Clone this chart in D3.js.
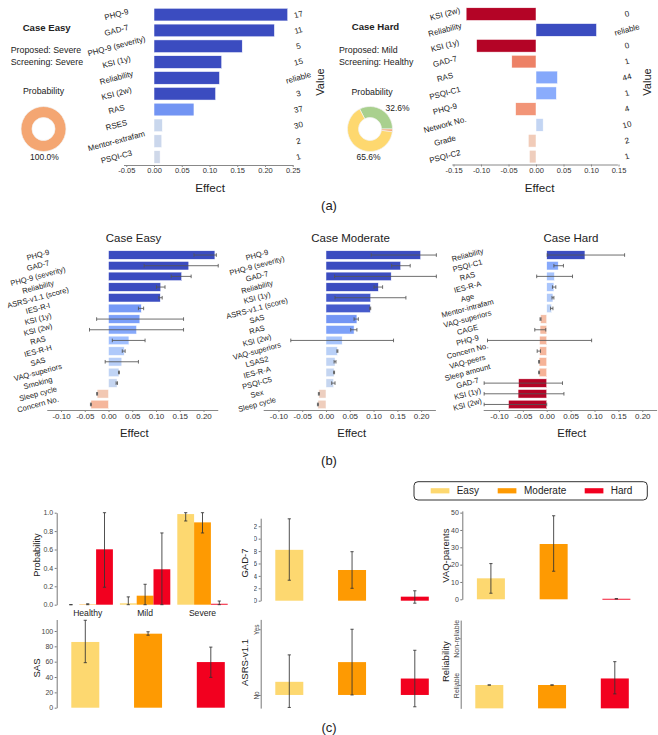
<!DOCTYPE html>
<html><head><meta charset="utf-8">
<script src="https://cdn.jsdelivr.net/npm/d3@7"></script>
<style>body{margin:0;background:#fff}svg{display:block;background:#fff}</style>
</head><body><svg id="c" width="658" height="735"></svg>
<script>
// ================= DATA =================
// panel (a)
const aEasyFeatures = ["PHQ-9","GAD-7","PHQ-9 (severity)","KSI (1y)","Reliability","KSI (2w)","RAS","RSES","Mentor-extrafam","PSQI-C3"];
const aEasyEffects  = [0.241,0.217,0.159,0.122,0.118,0.111,0.072,0.015,0.014,0.011];
const aEasyValues   = ["17","11","5","15","reliable","3","37","30","2","1"];
const aHardFeatures = ["KSI (2w)","Reliability","KSI (1y)","GAD-7","RAS","PSQI-C1","PHQ-9","Network No.","Grade","PSQI-C2"];
const aHardEffects  = [-0.127,0.110,-0.108,-0.044,0.039,0.037,-0.037,0.013,-0.014,-0.012];
const aHardValues   = ["0","reliable","0","1","44","1","4","10","2","1"];
const aEasyTicks = [-0.05,0,0.05,0.10,0.15,0.20,0.25];
const aHardTicks = [-0.15,-0.10,-0.05,0,0.05,0.10,0.15];
const donutLevels = ["Healthy","Mild","Severe"];
const aEasyProb = [0,0,1.0];
const aHardProb = [0.326,0.656,0.018];

// panel (b)
const bTicks = [-0.10,-0.05,0,0.05,0.10,0.15,0.20];
const bEasyFeatures = ["PHQ-9","GAD-7","PHQ-9 (severity)","Reliability","ASRS-v1.1 (score)","IES-R-I","KSI (1y)","KSI (2w)","RAS","IES-R-H","SAS","VAQ-superiors","Smoking","Sleep cycle","Concern No."];
const bEasyEffects  = [0.224,0.169,0.154,0.110,0.109,0.069,0.066,0.059,0.043,0.033,0.028,0.022,0.018,-0.024,-0.037];
const bEasyLow      = [0.180,0.075,0.132,0.101,0.106,0.063,-0.025,-0.040,0.008,0.029,-0.007,0.021,0.016,-0.025,-0.038];
const bEasyHigh     = [0.227,0.231,0.174,0.119,0.113,0.074,0.158,0.158,0.077,0.035,0.063,0.023,0.019,-0.023,-0.036];
const bModFeatures  = ["PHQ-9","PHQ-9 (severity)","GAD-7","Reliability","KSI (1y)","ASRS-v1.1 (score)","SAS","RAS","KSI (2w)","VAQ-superiors","LSAS2","IES-R-A","PSQI-C5","Sex","Sleep cycle"];
const bModEffects   = [0.199,0.157,0.137,0.110,0.094,0.093,0.065,0.059,0.034,0.024,0.019,0.017,0.016,-0.015,-0.017];
const bModLow       = [0.095,0.138,0.018,0.101,0.019,0.092,0.059,0.052,-0.074,0.023,0.017,0.016,0.012,-0.016,-0.018];
const bModHigh      = [0.232,0.177,0.232,0.119,0.168,0.094,0.068,0.065,0.142,0.025,0.021,0.018,0.019,-0.014,-0.016];
const bHardFeatures = ["Reliability","PSQI-C1","RAS","IES-R-A","Age","Mentor-intrafam","VAQ-superiors","CAGE","PHQ-9","Concern No.","VAQ-peers","Sleep amount","GAD-7","KSI (1y)","KSI (2w)"];
const bHardEffects  = [0.080,0.024,0.016,0.015,0.013,0.010,-0.013,-0.014,-0.015,-0.015,-0.016,-0.016,-0.059,-0.060,-0.080];
const bHardLow      = [0.001,0.015,-0.021,0.012,0.011,0.008,-0.014,-0.025,-0.124,-0.020,-0.017,-0.017,-0.131,-0.131,-0.131];
const bHardHigh     = [0.163,0.035,0.054,0.019,0.015,0.013,-0.012,-0.002,0.094,-0.013,-0.015,-0.015,0.033,0.036,0.000];

// panel (c)
const levels = ["Easy","Moderate","Hard"];
const probGroups = ["Healthy","Mild","Severe"];
const probEasy = [0.0,0.015,0.985],   probEasyLow = [0,0,0.91],  probEasyHigh = [0,0.085,1.0];
const probMod  = [0.004,0.098,0.895], probModLow  = [0,0,0.78],  probModHigh  = [0.01,0.222,1.0];
const probHard = [0.602,0.385,0.01],  probHardLow = [0.19,0,0],  probHardHigh = [1.0,0.78,0.04];
const probTicks = [0,0.2,0.4,0.6,0.8,1.0];
const gadMean = [8.2,4.95,0.65],  gadLow = [3.3,2.0,-0.4],   gadHigh = [13.2,7.9,1.6];
const gadTicks = [0,2,4,6,8,10,12];
const vaqMean = [12.1,31.9,0.3],  vaqLow = [3.5,16.2,0.2],   vaqHigh = [20.6,48.2,0.4];
const vaqTicks = [0,10,20,30,40,50];
const sasMean = [85.7,96.5,59.5], sasLow = [58.7,94.5,39.6], sasHigh = [114,99,79];
const sasTicks = [0,20,40,60,80,100];
const asrsMean = [0.20,0.50,0.25], asrsLow = [-0.19,0.0,-0.18], asrsHigh = [0.61,1.0,0.68];
const asrsTicks = [0,1], asrsTickLabels = ["No","Yes"];
const relMean = [1.0,1.0,1.14], relLow = [1.0,1.0,0.81], relHigh = [1.0,1.0,1.5];
const relTicks = [1,2], relTickLabels = ["Reliable","Non-reliable"];

// ================= DRAWING =================
const FONT = '"Liberation Sans", Arial, Helvetica, sans-serif';
const svg = d3.select("#c").style("font-family", FONT);
const coolStops = ['#3b4cc0','#5977e3','#7b9ff9','#9ebeff','#c0d4f5','#dddcdc','#f2cbb7','#f7ac8e','#ee8468','#d65244','#b40426'];
const cw = d3.scaleLinear().domain(d3.range(11).map(i=>i/10)).range(coolStops).clamp(true);
const coolColor = (v,R) => cw(0.5 - 0.5*Math.max(-1,Math.min(1,v/R)));
const donutColors = ['#a9d08e','#fed86f','#f4a672'];
const levelColors = ['#fdd870','#fe9a02','#f2001f'];

function txt(x,y,s,size,o={}){
  const t = svg.append("text").attr("x",x).attr("y",y).text(s)
    .attr("font-size",size).attr("fill",o.fill||"#222")
    .attr("text-anchor",o.anchor||"middle").attr("dominant-baseline","central");
  if(o.bold) t.attr("font-weight","bold");
  if(o.rot!==undefined) t.attr("transform",`rotate(${o.rot},${x},${y})`);
  return t;
}

function hbar(o){
  const g = svg.append("g");
  const x = d3.scaleLinear().domain(o.domain).range(o.xr);
  const y = d3.scaleBand().domain(o.features).range(o.yr).paddingInner(0.2).paddingOuter(0.1);
  const rows = o.features.map((f,i)=>({f, v:o.effects[i], lo:o.lo?o.lo[i]:null, hi:o.hi?o.hi[i]:null, val:o.values?o.values[i]:null}));
  g.selectAll("rect.bar").data(rows).join("rect").attr("class","bar")
    .attr("x",d=>x(Math.min(0,d.v))).attr("width",d=>Math.abs(x(d.v)-x(0)))
    .attr("y",d=>y(d.f)).attr("height",y.bandwidth())
    .attr("fill",d=>coolColor(d.v,o.R)).attr("stroke","#fff").attr("stroke-width",0.5);
  if(o.lo){
    const e = g.selectAll("g.err").data(rows).join("g").attr("class","err")
      .attr("stroke","#555").attr("stroke-width",1).attr("stroke-opacity",0.85);
    const cy = d=>y(d.f)+y.bandwidth()/2;
    e.append("line").attr("x1",d=>x(d.lo)).attr("x2",d=>x(d.hi)).attr("y1",cy).attr("y2",cy);
    e.append("line").attr("x1",d=>x(d.lo)).attr("x2",d=>x(d.lo)).attr("y1",d=>cy(d)-1.8).attr("y2",d=>cy(d)+1.8);
    e.append("line").attr("x1",d=>x(d.hi)).attr("x2",d=>x(d.hi)).attr("y1",d=>cy(d)-1.8).attr("y2",d=>cy(d)+1.8);
  }
  rows.forEach(d=>{
    const cy = y(d.f)+y.bandwidth()/2;
    txt(o.labelCx, cy, d.f, o.labelSize, {rot:-15});
    if(d.val!==null) txt(o.valueCx, cy, d.val, 8, {rot:-15});
  });
  const ax = g.append("g").attr("transform",`translate(0,${o.axisY})`)
    .call(d3.axisBottom(x).tickValues(o.ticks).tickFormat(d=>d.toFixed(2)).tickSize(2).tickSizeOuter(0).tickPadding(1));
  ax.attr("font-family",FONT).attr("font-size",o.tickSize);
  ax.select(".domain").attr("stroke","#888");
  ax.selectAll(".tick line").attr("stroke","#888");
  ax.selectAll(".tick text").attr("fill","#333");
  txt((o.xr[0]+o.xr[1])/2+o.effectDx, o.effectY, "Effect", o.effectSize);
}

function donut(cx,cy,probs){
  const arc = d3.arc().innerRadius(11.5).outerRadius(22.5);
  let cum = 0;
  probs.forEach((p,i)=>{
    const a0 = Math.PI/2 - 2*Math.PI*cum, a1 = Math.PI/2 - 2*Math.PI*(cum+p);
    svg.append("path").attr("transform",`translate(${cx},${cy})`)
      .attr("d",arc({startAngle:a1,endAngle:a0}))
      .attr("fill",donutColors[i]).attr("stroke","#f2f2f2").attr("stroke-width",0.7);
    cum += p;
  });
}

// ---------- panel (a) ----------
txt(46.7,27.3,"Case Easy",9.6,{bold:true});
txt(10.7,50,"Proposed: Severe",8.8,{anchor:"start"});
txt(10.7,61.5,"Screening: Severe",8.8,{anchor:"start"});
txt(43.5,91,"Probability",8.8);
donut(43.5,129,aEasyProb);
txt(44.5,157,(aEasyProb[2]*100).toFixed(1)+"%",8.5);

txt(375.5,26.7,"Case Hard",9.6,{bold:true});
txt(339,50,"Proposed: Mild",8.8,{anchor:"start"});
txt(339,61.5,"Screening: Healthy",8.8,{anchor:"start"});
txt(372,92,"Probability",8.8);
donut(370,129,aHardProb);
txt(397.5,108,(aHardProb[0]*100).toFixed(1)+"%",8.5);
txt(368.5,157,(aHardProb[1]*100).toFixed(1)+"%",8.5);

hbar({features:aEasyFeatures,effects:aEasyEffects,values:aEasyValues,domain:[-0.055,0.25],xr:[123.5,292.7],
  yr:[6.7,164.9],axisY:165,ticks:aEasyTicks,R:0.11,labelCx:116.5,labelSize:8,valueCx:298.5,tickSize:7.5,
  effectY:187,effectDx:2,effectSize:11.7});
hbar({features:aHardFeatures,effects:aHardEffects,values:aHardValues,domain:[-0.153,0.148],xr:[451.85,617.4],
  yr:[6.2,164.5],axisY:164.5,ticks:aHardTicks,R:0.072,labelCx:445,labelSize:8,valueCx:627,tickSize:7.5,
  effectY:187,effectDx:5,effectSize:11.7});
txt(320,82,"Value",11,{rot:-90});
txt(646.5,82,"Value",11,{rot:-90});
txt(329,205,"(a)",13);

// ---------- panel (b) ----------
txt(133.5,237.5,"Case Easy",11.5);
txt(350.5,237.5,"Case Moderate",11.5);
txt(571,237.5,"Case Hard",11.5);
hbar({features:bEasyFeatures,effects:bEasyEffects,lo:bEasyLow,hi:bEasyHigh,domain:[-0.13,0.23],xr:[46.75,217.75],
  yr:[249.7,409.8],axisY:410,ticks:bTicks,R:0.11,labelCx:38,labelSize:7.6,tickSize:8,
  effectY:432.7,effectDx:2,effectSize:11.3});
hbar({features:bModFeatures,effects:bModEffects,lo:bModLow,hi:bModHigh,domain:[-0.132,0.23],xr:[263.2,435.4],
  yr:[249.7,409.8],axisY:410,ticks:bTicks,R:0.10,labelCx:257,labelSize:7.6,tickSize:8,
  effectY:432.7,effectDx:2.4,effectSize:11.3});
hbar({features:bHardFeatures,effects:bHardEffects,lo:bHardLow,hi:bHardHigh,domain:[-0.133,0.23],xr:[483.2,656.6],
  yr:[249.7,409.8],axisY:410,ticks:bTicks,R:0.045,labelCx:467.5,labelSize:7.6,tickSize:8,
  effectY:432.7,effectDx:1.8,effectSize:11.3});
txt(329,460.8,"(b)",13);

// ---------- panel (c) ----------
function errV(g,cx,y0,y1,cw){
  const e = g.append("g").attr("stroke","#333").attr("stroke-width",1).attr("stroke-opacity",0.85);
  e.append("line").attr("x1",cx).attr("x2",cx).attr("y1",y0).attr("y2",y1);
  e.append("line").attr("x1",cx-cw).attr("x2",cx+cw).attr("y1",y0).attr("y2",y0);
  e.append("line").attr("x1",cx-cw).attr("x2",cx+cw).attr("y1",y1).attr("y2",y1);
}
function leftAxis(g,axisX,y,ticks,fmt,opts={}){
  const ax = g.append("g").attr("transform",`translate(${axisX},0)`)
    .call(d3.axisLeft(y).tickValues(ticks).tickFormat(fmt).tickSize(2).tickSizeOuter(0).tickPadding(1.5));
  ax.attr("font-family",FONT).attr("font-size",opts.size||7);
  ax.select(".domain").attr("stroke","#777");
  ax.selectAll(".tick line").attr("stroke","#777");
  ax.selectAll(".tick text").attr("fill","#444");
  if(opts.rot){
    ax.selectAll(".tick text").attr("transform","rotate(-90)").attr("x",0).attr("y",-2.2)
      .attr("dy",0).attr("text-anchor","middle");
  }
  return ax;
}

// probability grouped chart
{
  const g = svg.append("g");
  const y = d3.scaleLinear().domain([0,1]).range([604.7,512.7]);
  const gx = d3.scalePoint().domain(probGroups).range([87.7,202.5]);
  const sub = d3.scaleBand().domain(levels).range([-25.2,25.2]);
  const means=[probEasy,probMod,probHard], lows=[probEasyLow,probModLow,probHardLow], highs=[probEasyHigh,probModHigh,probHardHigh];
  levels.forEach((l,li)=>{
    probGroups.forEach((gr,gi)=>{
      const x0 = gx(gr)+sub(l);
      g.append("rect").attr("x",x0).attr("width",sub.bandwidth())
        .attr("y",y(means[li][gi])).attr("height",y(0)-y(means[li][gi])).attr("fill",levelColors[li]);
    });
  });
  levels.forEach((l,li)=>{
    probGroups.forEach((gr,gi)=>{
      errV(g,gx(gr)+sub(l)+sub.bandwidth()/2,y(lows[li][gi]),y(highs[li][gi]),1.6);
    });
  });
  leftAxis(g,56.7,y,probTicks,d=>d.toFixed(1));
  probGroups.forEach(gr=>txt(gx(gr),613.3,gr,8.6));
  txt(36.7,555,"Probability",9.3,{rot:-90});
}

function vbar(o){
  const g = svg.append("g");
  const y = d3.scaleLinear().domain(o.domain).range(o.yr);
  const x = d3.scalePoint().domain(levels).range([o.axisX+28.6,o.axisX+154.1]);
  const base = o.base!==undefined ? o.base : 0;
  levels.forEach((l,i)=>{
    const v = o.mean[i];
    g.append("rect").attr("x",x(l)-14).attr("width",28)
      .attr("y",Math.min(y(v),y(base))).attr("height",Math.max(0.9,Math.abs(y(base)-y(v))))
      .attr("fill",levelColors[i]);
  });
  levels.forEach((l,i)=>errV(g,x(l),y(o.lo[i]),y(o.hi[i]),1.6));
  const ax = leftAxis(g,o.axisX,y,o.ticks,o.fmt,{rot:o.rotTicks,size:o.tickSize});
  if(o.clipX!==undefined){
    // clip is expressed in the axis group's local coordinates (translated by axisX)
    const id="clip"+Math.round(o.axisX)+Math.round(o.yr[0]);
    svg.append("clipPath").attr("id",id).append("rect")
      .attr("x",o.clipX-o.axisX).attr("y",o.yr[1]-10).attr("width",60).attr("height",o.yr[0]-o.yr[1]+20);
    ax.attr("clip-path",`url(#${id})`);
  }
  txt(o.labelPos[0],o.labelPos[1],o.label,9.5,{rot:-90});
}

vbar({axisX:260.7,domain:[0,13.3],yr:[600.7,518.2],mean:gadMean,lo:gadLow,hi:gadHigh,ticks:gadTicks,
  fmt:d=>String(d),label:"GAD-7",labelPos:[244,563],clipX:254.1});
vbar({axisX:462.3,domain:[0,51],yr:[599.3,510.9],mean:vaqMean,lo:vaqLow,hi:vaqHigh,ticks:vaqTicks,
  fmt:d=>String(d),label:"VAQ-parents",labelPos:[446,555.7]});
vbar({axisX:56.7,domain:[0,115],yr:[707.7,619.5],mean:sasMean,lo:sasLow,hi:sasHigh,ticks:sasTicks,
  fmt:d=>String(d),label:"SAS",labelPos:[36.5,668]});
vbar({axisX:260.7,domain:[-0.2,1.15],yr:[708.1,619.4],mean:asrsMean,lo:asrsLow,hi:asrsHigh,ticks:asrsTicks,
  fmt:(d,i)=>asrsTickLabels[i],rotTicks:true,tickSize:6.5,label:"ASRS-v1.1",labelPos:[244,662.5]});
vbar({axisX:460.7,domain:[0.5,2.39],yr:[708.35,620.1],mean:relMean,lo:relLow,hi:relHigh,ticks:relTicks,base:0.5,
  fmt:(d,i)=>relTickLabels[i],rotTicks:true,tickSize:7,label:"Reliability",labelPos:[446,661.7]});

// legend
{
  const g = svg.append("g");
  g.append("rect").attr("x",414).attr("y",481.7).attr("width",233.3).attr("height",18.3).attr("rx",4)
    .attr("fill","#fff").attr("stroke","#333").attr("stroke-width",1);
  const sw=[430.7,497.7,584.7], tx=[456.7,524,610.7];
  levels.forEach((l,i)=>{
    g.append("rect").attr("x",sw[i]).attr("y",488.2).attr("width",18.7).attr("height",5.2).attr("fill",levelColors[i]);
    txt(tx[i],490.8,l,10,{anchor:"start"});
  });
}
txt(329,727.5,"(c)",13);
</script>
</body></html>
